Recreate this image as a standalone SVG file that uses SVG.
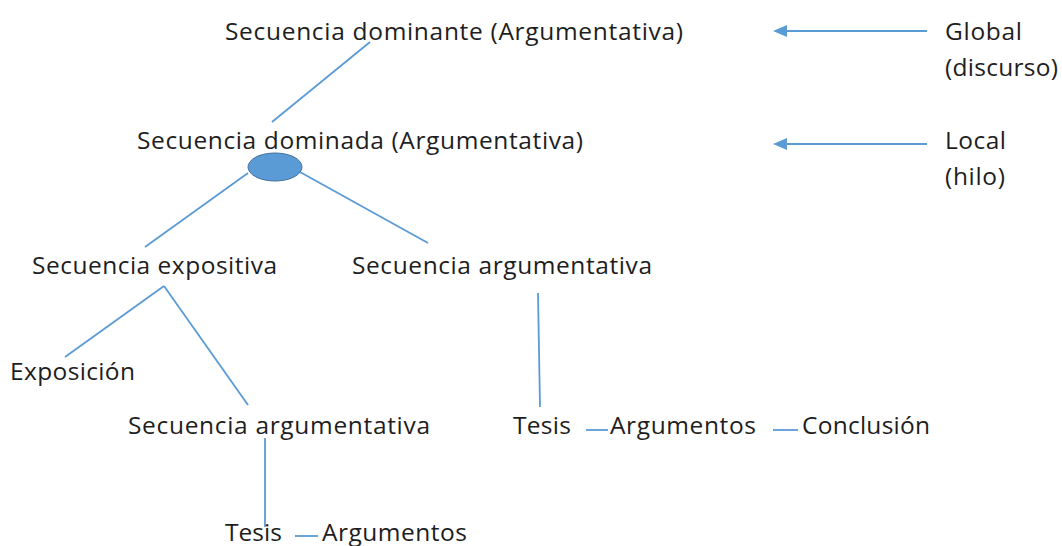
<svg xmlns="http://www.w3.org/2000/svg" width="1062" height="546" viewBox="0 0 1062 546">
  <style>
    text { font-family: "Open Sans", "Liberation Sans", sans-serif; font-size: 24.5px; fill: #1e1e1e; }
    .ln { stroke: #5b9bd5; stroke-width: 1.8; fill: none; }
  </style>
  <defs>
    <marker id="arr" viewBox="0 0 14 12" refX="0" refY="6" markerWidth="14" markerHeight="12" markerUnits="userSpaceOnUse" orient="auto">
      <path d="M0,0 L14,6 L0,12 z" fill="#5b9bd5"/>
    </marker>
  </defs>
  <rect width="1062" height="546" fill="#ffffff"/>

  <g id="connectors">
    <line class="ln" x1="370" y1="42" x2="272" y2="122"/>
    <line class="ln" x1="248" y1="173" x2="145" y2="247"/>
    <line class="ln" x1="300" y1="172" x2="428" y2="243"/>
    <line class="ln" x1="164" y1="286" x2="65" y2="357"/>
    <line class="ln" x1="164" y1="286" x2="248" y2="405"/>
    <line class="ln" x1="538" y1="293" x2="540" y2="407"/>
    <line class="ln" x1="265" y1="438" x2="265" y2="527"/>
    <line class="ln" x1="586" y1="430" x2="608" y2="430"/>
    <line class="ln" x1="773" y1="430" x2="798" y2="430"/>
    <line class="ln" x1="295" y1="536" x2="318" y2="536"/>
    <line class="ln" x1="927" y1="31" x2="787" y2="31" marker-end="url(#arr)"/>
    <line class="ln" x1="927" y1="144" x2="787" y2="144" marker-end="url(#arr)"/>
  </g>

  <g id="n-dominante"><text x="225" y="40" textLength="458">Secuencia dominante (Argumentativa)</text></g>
  <g id="n-dominada"><text x="137" y="149" textLength="446">Secuencia dominada (Argumentativa)</text></g>
  <g id="n-ellipse"><ellipse cx="275" cy="167" rx="27" ry="14" fill="#5b9bd5" stroke="#41719c" stroke-width="1"/></g>
  <g id="n-expositiva"><text x="32" y="274" textLength="245">Secuencia expositiva</text></g>
  <g id="n-argumentativa-r"><text x="352" y="274" textLength="300">Secuencia argumentativa</text></g>
  <g id="n-exposicion"><text x="10" y="380" textLength="125">Exposición</text></g>
  <g id="n-argumentativa-l"><text x="128" y="434" textLength="302">Secuencia argumentativa</text></g>
  <g id="n-tesis-r"><text x="513" y="434" textLength="58">Tesis</text></g>
  <g id="n-argumentos-r"><text x="610" y="434" textLength="146">Argumentos</text></g>
  <g id="n-conclusion"><text x="802" y="434" textLength="128">Conclusión</text></g>
  <g id="n-tesis-b"><text x="225" y="541" textLength="57">Tesis</text></g>
  <g id="n-argumentos-b"><text x="322" y="541" textLength="145">Argumentos</text></g>
  <g id="n-global"><text x="945" y="40" textLength="77">Global</text><text x="945" y="76" textLength="113">(discurso)</text></g>
  <g id="n-local"><text x="945" y="149" textLength="61">Local</text><text x="945" y="185" textLength="60">(hilo)</text></g>
</svg>
